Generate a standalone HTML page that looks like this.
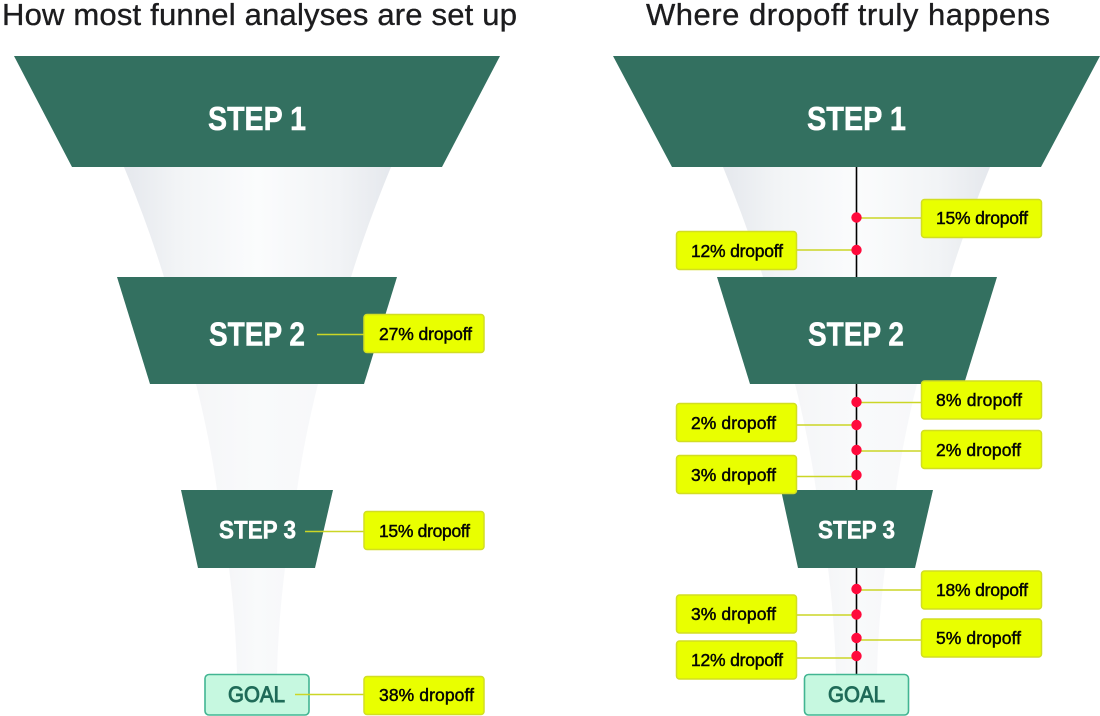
<!DOCTYPE html>
<html><head><meta charset="utf-8"><title>Funnel dropoff</title>
<style>
html,body{margin:0;padding:0;background:#fff;width:1100px;height:716px;overflow:hidden}
svg{display:block}
text{font-family:"Liberation Sans",sans-serif}
.t{font-size:31px;fill:#1c1c1e;stroke:#1c1c1e;stroke-width:.35}
.s{fill:#fff;stroke:#fff;stroke-width:.5;font-weight:700;text-anchor:start}
.l{font-size:17.5px;fill:#050505;stroke:#050505;stroke-width:.45}
.b{fill:#e9ff00;stroke:#d2de22;stroke-width:1.5}
.c{stroke:#cbd626;stroke-width:1.6;fill:none}
.g{fill:#c6f8e0;stroke:#42b592;stroke-width:1.6}
.gt{font-size:22px;fill:#1f6b58;stroke:#1f6b58;stroke-width:.9}
.d{fill:#ff0a3c}
.st{fill:#337060}
</style></head><body>
<svg width="1100" height="716" viewBox="0 0 1100 716" xmlns="http://www.w3.org/2000/svg">
<defs>
<linearGradient id="a"><stop offset="0" stop-color="#e5e8ed"/><stop offset=".2" stop-color="#f2f4f6"/><stop offset=".5" stop-color="#fbfcfd"/><stop offset=".8" stop-color="#f2f4f6"/><stop offset="1" stop-color="#e5e8ed"/></linearGradient>
<linearGradient id="e"><stop offset="0" stop-color="#f5f6f8"/><stop offset=".5" stop-color="#f9fafb"/><stop offset="1" stop-color="#f7f8fa"/></linearGradient>
</defs>
<text class="t" x="2" y="25" textLength="515">How most funnel analyses are set up</text>
<text class="t" x="646" y="25" textLength="404">Where dropoff truly happens</text>

<!-- left funnel -->
<path fill="url(#a)" d="M124 167H391Q367 225 351 277H164Q148 225 124 167Z"/>
<path fill="url(#e)" d="M196 384H318Q304 440 297 490H217Q210 440 196 384Z"/>
<path fill="url(#e)" d="M229 568H285Q278 625 277 674H237Q236 625 229 568Z"/>
<polygon class="st" points="14,56 500,56 442,167 72,167"/>
<polygon class="st" points="117,277 397,277 364,384 150,384"/>
<polygon class="st" points="181,490 333,490 315,568 198,568"/>
<rect class="g" x="205" y="674.500" width="104" height="40.500" rx="4"/>
<text class="s" x="208" y="130" font-size="33" textLength="98" lengthAdjust="spacingAndGlyphs">STEP 1</text>
<text class="s" x="209" y="345.500" font-size="33" textLength="96" lengthAdjust="spacingAndGlyphs">STEP 2</text>
<text class="s" x="219" y="538.500" font-size="25" textLength="77" lengthAdjust="spacingAndGlyphs">STEP 3</text>
<text class="gt" x="228" y="702" textLength="57" lengthAdjust="spacingAndGlyphs">GOAL</text>
<path class="c" d="M317 334.500H364M305 531.500H364M295 694.500H364"/>
<rect class="b" x="364" y="314.500" width="120" height="38" rx="3"/>
<rect class="b" x="364" y="511.500" width="120" height="38" rx="3"/>
<rect class="b" x="364" y="676.500" width="120" height="38" rx="3"/>
<text class="l" x="379" y="340" textLength="93">27% dropoff</text>
<text class="l" x="379" y="537" textLength="91">15% dropoff</text>
<text class="l" x="379" y="701" textLength="95">38% dropoff</text>

<!-- right funnel -->
<path fill="url(#a)" d="M723 167H990Q966 225 950 277H763Q747 225 723 167Z"/>
<path fill="url(#e)" d="M795 384H917Q903 440 896 490H816Q809 440 795 384Z"/>
<path fill="url(#e)" d="M828 568H885Q878 625 877 674H836Q835 625 828 568Z"/>
<path stroke="#000" stroke-width="1.600" d="M856.500 167V674"/>
<polygon class="st" points="613,56 1100,56 1041,167 672,167"/>
<polygon class="st" points="717,277 997,277 964,384 750,384"/>
<polygon class="st" points="781,490 933,490 915,568 798,568"/>
<rect class="g" x="804.500" y="674.500" width="104" height="40.500" rx="4"/>
<text class="s" x="807" y="130" font-size="33" textLength="99" lengthAdjust="spacingAndGlyphs">STEP 1</text>
<text class="s" x="808" y="345.500" font-size="33" textLength="96" lengthAdjust="spacingAndGlyphs">STEP 2</text>
<text class="s" x="818" y="538.500" font-size="25" textLength="77" lengthAdjust="spacingAndGlyphs">STEP 3</text>
<text class="gt" x="828" y="702" textLength="57" lengthAdjust="spacingAndGlyphs">GOAL</text>

<path class="c" d="M857 218H921M797 250H857M857 402.500H921M797 425H857M857 451H921M797 476.500H857M857 590H921M797 615H857M857 640H921M797 658H857"/>
<circle class="d" cx="856.500" cy="217.500" r="5.200"/>
<circle class="d" cx="856.500" cy="250" r="5.200"/>
<circle class="d" cx="856.500" cy="402" r="5.200"/>
<circle class="d" cx="856.500" cy="425" r="5.200"/>
<circle class="d" cx="856.500" cy="450" r="5.200"/>
<circle class="d" cx="856.500" cy="475" r="5.200"/>
<circle class="d" cx="856.500" cy="589" r="5.200"/>
<circle class="d" cx="856.500" cy="614.500" r="5.200"/>
<circle class="d" cx="856.500" cy="638" r="5.200"/>
<circle class="d" cx="856.500" cy="656" r="5.200"/>

<rect class="b" x="921.500" y="199.500" width="120" height="38" rx="3"/>
<rect class="b" x="676.500" y="231.500" width="120" height="38" rx="3"/>
<rect class="b" x="921.500" y="381" width="120" height="38" rx="3"/>
<rect class="b" x="676.500" y="403.500" width="120" height="38" rx="3"/>
<rect class="b" x="921.500" y="430.500" width="120" height="38" rx="3"/>
<rect class="b" x="676.500" y="455.500" width="120" height="38" rx="3"/>
<rect class="b" x="921.500" y="571" width="120" height="38" rx="3"/>
<rect class="b" x="676.500" y="595" width="120" height="38" rx="3"/>
<rect class="b" x="921.500" y="619" width="120" height="38" rx="3"/>
<rect class="b" x="676.500" y="641" width="120" height="38" rx="3"/>
<text class="l" x="936" y="224" textLength="92">15% dropoff</text>
<text class="l" x="691" y="257" textLength="92">12% dropoff</text>
<text class="l" x="936" y="406" textLength="86">8% dropoff</text>
<text class="l" x="691" y="429" textLength="85">2% dropoff</text>
<text class="l" x="936" y="456" textLength="85">2% dropoff</text>
<text class="l" x="691" y="481" textLength="85">3% dropoff</text>
<text class="l" x="936" y="596" textLength="92">18% dropoff</text>
<text class="l" x="691" y="620" textLength="85">3% dropoff</text>
<text class="l" x="936" y="644" textLength="85">5% dropoff</text>
<text class="l" x="691" y="666" textLength="92">12% dropoff</text>
</svg>
</body></html>
